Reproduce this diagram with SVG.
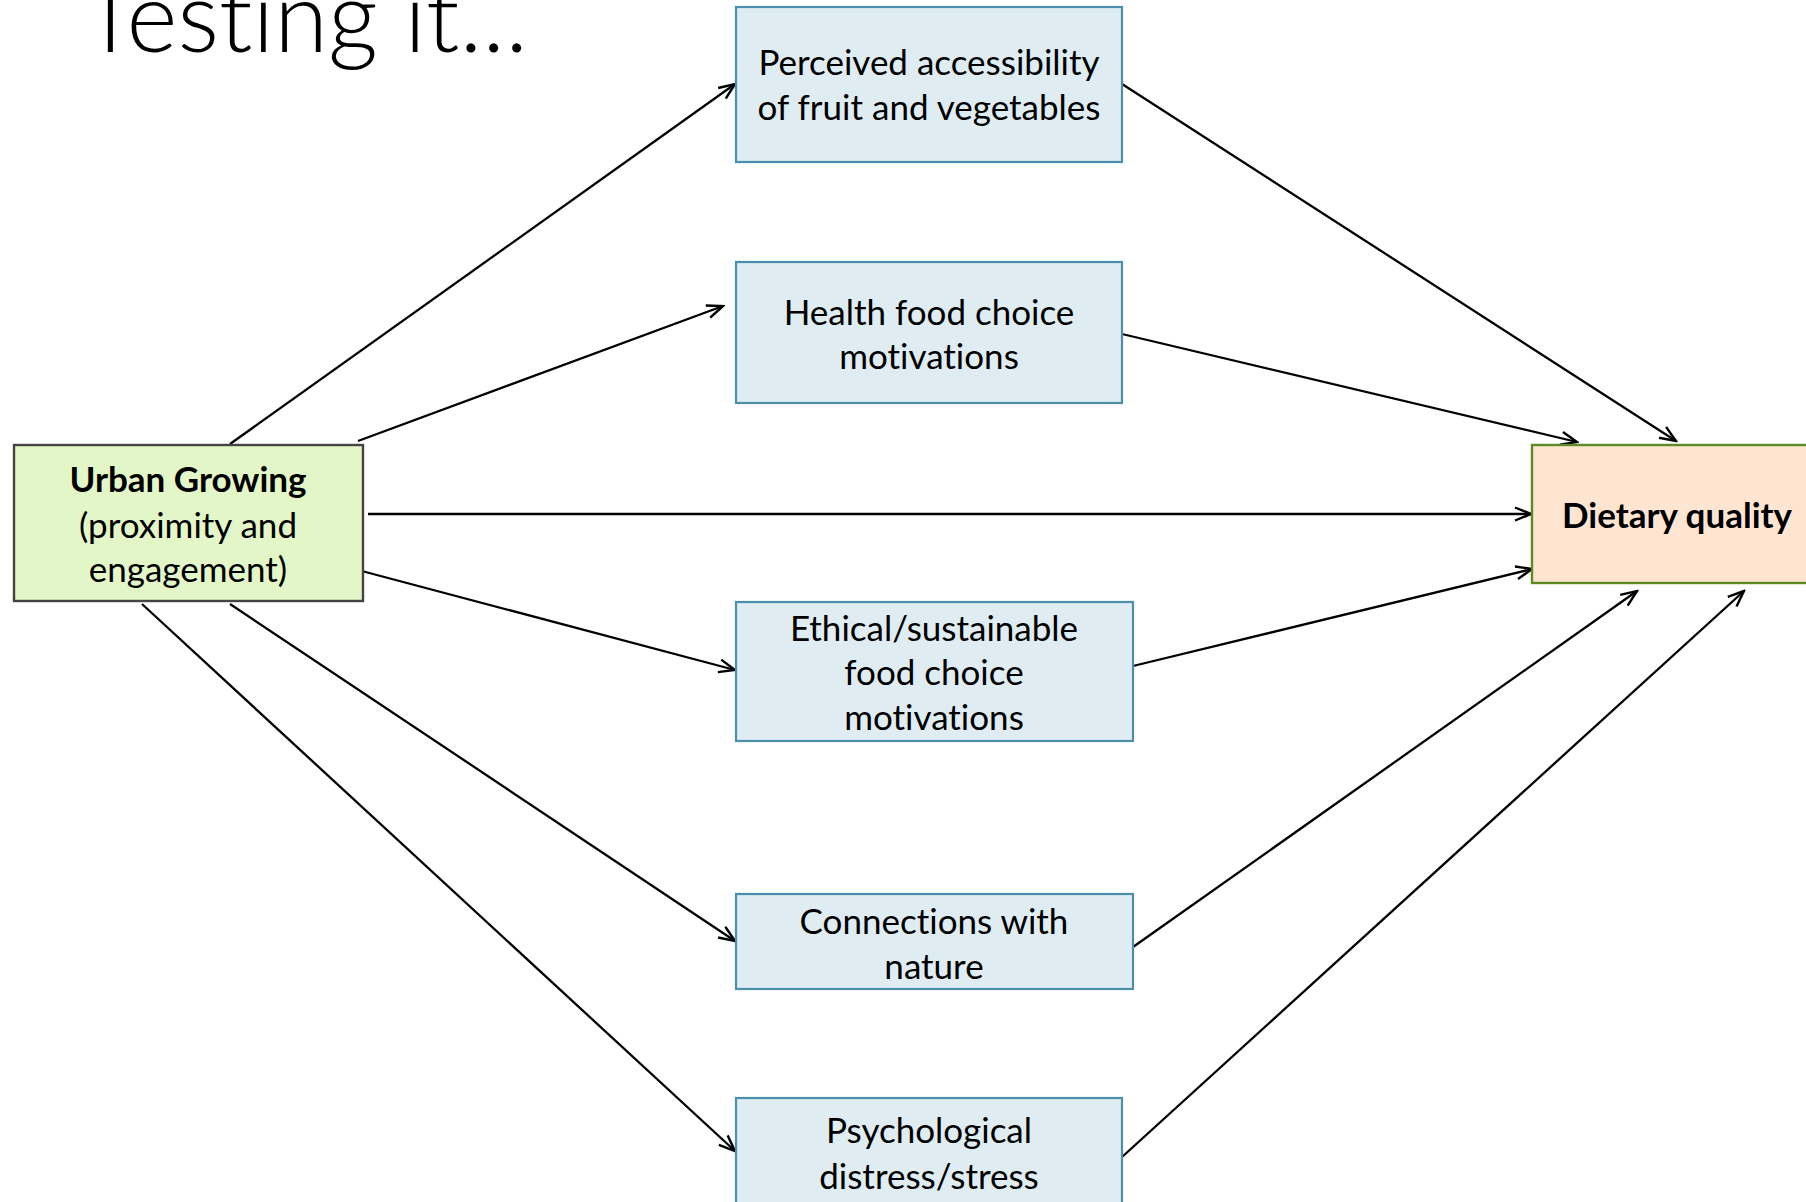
<svg xmlns="http://www.w3.org/2000/svg" width="1806" height="1202" viewBox="0 0 1806 1202">
<style>
text{font-variant-ligatures:none;font-feature-settings:"liga" 0,"dlig" 0}
.t{font-family:Lato,"Liberation Sans",sans-serif;font-size:35px;fill:#000;text-anchor:middle}
.b{font-weight:bold}
.med{fill:#DFECF2;stroke:#4C8FAA;stroke-width:2.2}
.ln{stroke:#000;stroke-width:2.3;fill:none;marker-end:url(#ah)}
</style>
<defs>
<marker id="ah" markerUnits="userSpaceOnUse" markerWidth="20" markerHeight="16" viewBox="0 0 20 16" refX="18" refY="8" orient="auto">
<path d="M2,1.5 L18,8 L2,14.5" fill="none" stroke="#000" stroke-width="2.4"/>
</marker>
</defs>
<rect width="1806" height="1202" fill="#fff"/>
<text x="82" y="52" textLength="446" lengthAdjust="spacingAndGlyphs" style="font-family:Lato,'Liberation Sans',sans-serif;font-size:98px;font-weight:300;fill:#000">Testing it...</text>
<g id="connectors">
<line class="ln" x1="230" y1="444" x2="735" y2="84"/>
<line class="ln" x1="358" y1="441" x2="723" y2="306"/>
<line class="ln" x1="368" y1="514" x2="1531" y2="514"/>
<line class="ln" x1="358" y1="570" x2="735" y2="670"/>
<line class="ln" x1="230" y1="604" x2="735" y2="941"/>
<line class="ln" x1="142" y1="604" x2="735" y2="1151"/>
<line class="ln" x1="1122" y1="84" x2="1676" y2="441"/>
<line class="ln" x1="1122" y1="334" x2="1577" y2="442"/>
<line class="ln" x1="1133" y1="666" x2="1532" y2="569"/>
<line class="ln" x1="1133" y1="947" x2="1637" y2="591"/>
<line class="ln" x1="1122" y1="1157" x2="1744" y2="591"/>
</g>
<g id="urban">
<rect x="14" y="445" width="349" height="156" fill="#E3F6C7" stroke="#444" stroke-width="2.4"/>
<text class="t b" x="188" y="492">Urban Growing</text>
<text class="t" x="188" y="538">(proximity and</text>
<text class="t" x="188" y="582">engagement)</text>
</g>
<g id="perceived">
<rect class="med" x="736" y="7" width="386" height="155"/>
<text class="t" x="929" y="75">Perceived accessibility</text>
<text class="t" x="929" y="120">of fruit and vegetables</text>
</g>
<g id="health">
<rect class="med" x="736" y="262" width="386" height="141"/>
<text class="t" x="929" y="325">Health food choice</text>
<text class="t" x="929" y="369">motivations</text>
</g>
<g id="ethical">
<rect class="med" x="736" y="602" width="397" height="139"/>
<text class="t" x="934" y="641">Ethical/sustainable</text>
<text class="t" x="934" y="685">food choice</text>
<text class="t" x="934" y="730">motivations</text>
</g>
<g id="nature">
<rect class="med" x="736" y="894" width="397" height="95"/>
<text class="t" x="934" y="934">Connections with</text>
<text class="t" x="934" y="979">nature</text>
</g>
<g id="psych">
<rect class="med" x="736" y="1098" width="386" height="130"/>
<text class="t" x="929" y="1143">Psychological</text>
<text class="t" x="929" y="1189">distress/stress</text>
</g>
<g id="dietary">
<rect x="1532" y="445" width="300" height="138" fill="#FDE5D1" stroke="#5E8A26" stroke-width="2.4"/>
<text class="t b" x="1677" y="528">Dietary quality</text>
</g>
</svg>
